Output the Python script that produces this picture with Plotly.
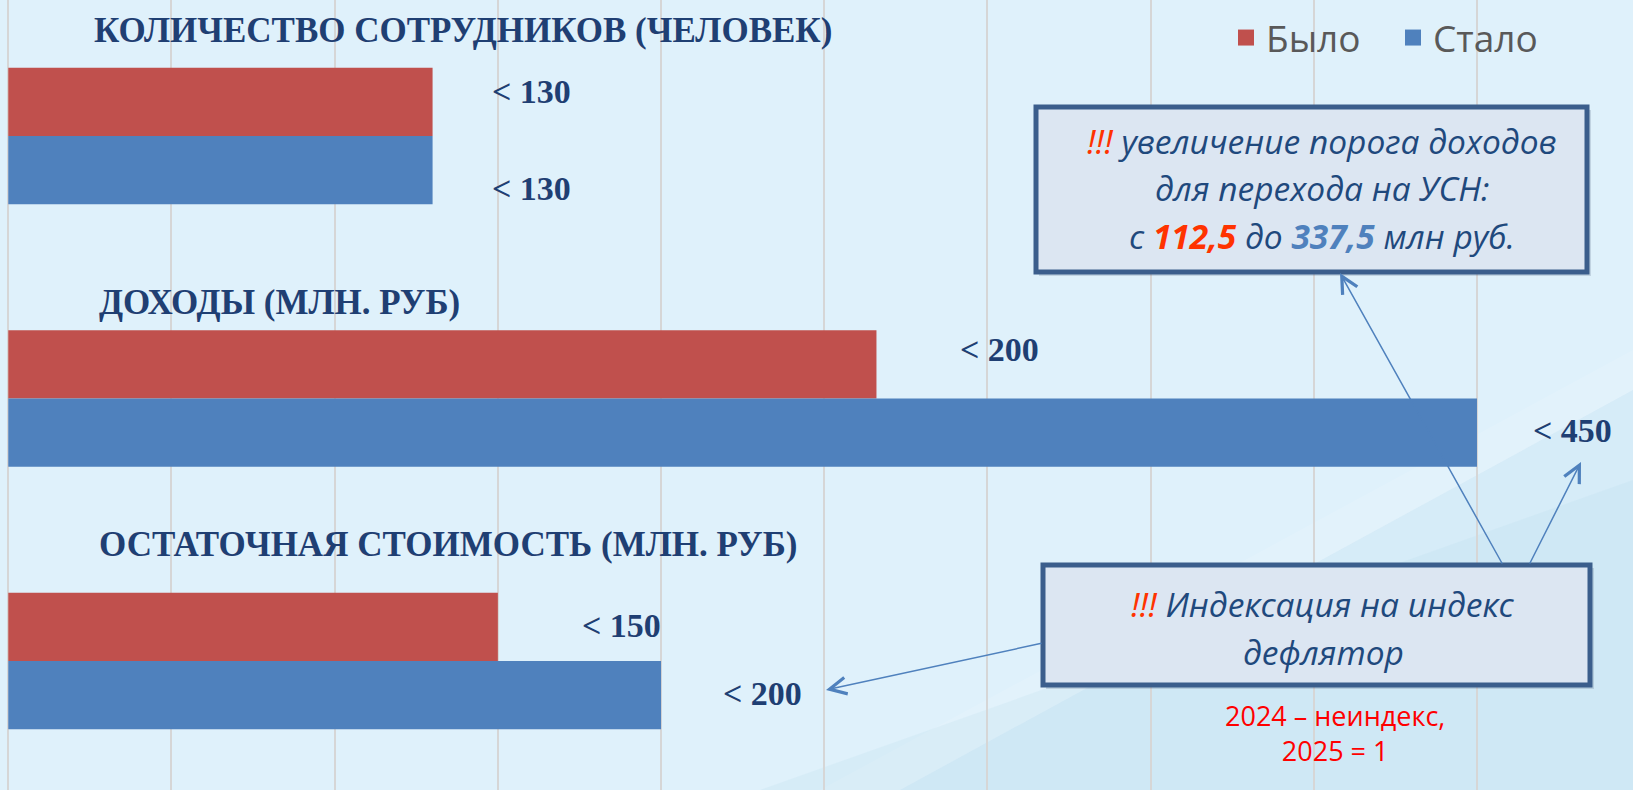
import plotly.graph_objects as go

# ---- data ----
groups = ["КОЛИЧЕСТВО СОТРУДНИКОВ (ЧЕЛОВЕК)", "ДОХОДЫ (МЛН. РУБ)", "ОСТАТОЧНАЯ СТОИМОСТЬ (МЛН. РУБ)"]
group_pos = [0, 1, 2]
bylo_values = [130, 266, 150]
stalo_values = [130, 450, 200]
bylo_labels = ["< 130", "< 200", "< 150"]
stalo_labels = ["< 130", "< 450", "< 200"]
series_names = ["Было", "Стало"]

W, H = 1633, 790
def px(x):
    return x / W
def py(y):
    return 1 - y / H

RED = "#c0504d"
BLUE = "#4f81bd"
NAVY = "#1f3f73"
BOXTXT = "#1f497d"
BG = "#dff1fb"

fig = go.Figure()
fig.add_trace(go.Bar(orientation="h", y=group_pos, x=bylo_values, width=0.26, offset=-0.26,
                     marker=dict(color=RED, line=dict(width=0)), name=series_names[0],
                     showlegend=False, hoverinfo="x"))
fig.add_trace(go.Bar(orientation="h", y=group_pos, x=stalo_values, width=0.26, offset=0,
                     marker=dict(color=BLUE, line=dict(width=0)), name=series_names[1],
                     showlegend=False, hoverinfo="x"))
# legend entries
for nm, col in zip(series_names, [RED, BLUE]):
    fig.add_trace(go.Scatter(x=[None], y=[None], mode="markers", name=nm,
                             marker=dict(symbol="square", size=16, color=col)))

annotations = []
shapes = []

# decorative background
shapes.append(dict(type="path", xref="paper", yref="paper", layer="below",
                   path=f"M {px(820)},{py(790)} L {px(1633)},{py(350)} L {px(1633)},{py(790)} Z",
                   fillcolor="rgba(255,255,255,0.12)", line=dict(width=0)))
shapes.append(dict(type="path", xref="paper", yref="paper", layer="below",
                   path=f"M {px(900)},{py(790)} L {px(1633)},{py(390)} L {px(1633)},{py(790)} Z",
                   fillcolor="rgba(175,215,235,0.22)", line=dict(width=0)))
shapes.append(dict(type="path", xref="paper", yref="paper", layer="below",
                   path=f"M {px(760)},{py(790)} L {px(1633)},{py(480)} L {px(1633)},{py(790)} Z",
                   fillcolor="rgba(175,215,235,0.18)", line=dict(width=0)))

# headings
heading_xy = [(92, 31), (97, 302), (97, 544)]
for txt, (hx, hy) in zip(groups, heading_xy):
    annotations.append(dict(xref="paper", yref="paper", x=px(hx), y=py(hy), xanchor="left", yanchor="middle",
                            text=f"<b>{txt}</b>", showarrow=False,
                            font=dict(family="Liberation Serif", size=35, color=NAVY)))

# value labels
bylo_label_xy = [(490, 92), (958, 350), (580, 625)]
stalo_label_xy = [(490, 189), (1531, 430), (721, 693)]
for lab, (lx, ly) in list(zip(bylo_labels, bylo_label_xy)) + list(zip(stalo_labels, stalo_label_xy)):
    annotations.append(dict(xref="paper", yref="paper", x=px(lx), y=py(ly), xanchor="left", yanchor="middle",
                            text=f"<b>{lab}</b>", showarrow=False,
                            font=dict(family="Liberation Serif", size=34, color=NAVY)))

# callout boxes
def box(x0, y0, x1, y1):
    shapes.append(dict(type="rect", xref="paper", yref="paper", x0=px(x0 + 3), y0=py(y1 + 4), x1=px(x1 + 4), y1=py(y0 + 3),
                       fillcolor="rgba(60,80,110,0.18)", line=dict(width=0)))
    shapes.append(dict(type="rect", xref="paper", yref="paper", x0=px(x0), y0=py(y1), x1=px(x1), y1=py(y0),
                       fillcolor="#dce6f2", line=dict(color="#3b5e8c", width=5)))

box(1036, 107, 1587, 272)
box(1043, 565, 1590, 685)

EXC = '<span style="color:#ff3300">!!!</span>'
box1_lines = [
    (f"<i>{EXC} увеличение порога доходов</i>", 141),
    ("<i>для перехода на УСН:</i>", 188),
    ('<i>с <b><span style="color:#ff3300">112,5</span></b> до <b><span style="color:#4f81bd">337,5</span></b> млн руб.</i>', 236),
]
for t, ly in box1_lines:
    annotations.append(dict(xref="paper", yref="paper", x=px(1322), y=py(ly), xanchor="center", yanchor="middle",
                            text=t, showarrow=False, font=dict(family="Open Sans", size=33.5, color=BOXTXT)))
box2_lines = [
    (f"<i>{EXC} Индексация на индекс</i>", 604),
    ("<i>дефлятор</i>", 652),
]
for t, ly in box2_lines:
    annotations.append(dict(xref="paper", yref="paper", x=px(1323), y=py(ly), xanchor="center", yanchor="middle",
                            text=t, showarrow=False, font=dict(family="Open Sans", size=33.5, color=BOXTXT)))

annotations.append(dict(xref="paper", yref="paper", x=px(1335), y=py(733), xanchor="center", yanchor="middle",
                        text="2024 – неиндекс,<br>2025 = 1", showarrow=False, align="center",
                        font=dict(family="Open Sans", size=27, color="#ff0000")))

# arrows
for (tx, ty, sx, sy) in [(1340, 273, 1503, 565), (1581, 462, 1529, 565), (826, 690, 1043, 643)]:
    annotations.append(dict(xref="paper", yref="paper", x=px(tx), y=py(ty), ax=sx - tx, ay=sy - ty,
                            text="", showarrow=True, arrowhead=5, arrowsize=2.2, arrowwidth=1.5,
                            arrowcolor=BLUE, standoff=0, startstandoff=0))

fig.update_layout(
    width=W, height=H,
    margin=dict(l=0, r=0, t=0, b=0),
    paper_bgcolor=BG, plot_bgcolor="rgba(0,0,0,0)",
    barmode="overlay",
    xaxis=dict(range=[-2.54, 497.8], showgrid=True, gridcolor="#d6d6d6", gridwidth=1.5, dtick=50, tick0=0,
               zeroline=False, showticklabels=False, showline=False, fixedrange=True),
    yaxis=dict(range=[2.491, -0.518], showgrid=False, zeroline=False, showticklabels=False, showline=False,
               fixedrange=True),
    legend=dict(orientation="h", x=px(1226), y=py(7), xanchor="left", yanchor="top",
                bgcolor="rgba(0,0,0,0)", font=dict(family="Open Sans", size=37, color="#595959"),
                itemwidth=30, traceorder="normal", entrywidth=122, entrywidthmode="pixels"),
    shapes=shapes, annotations=annotations,
    showlegend=True,
)

fig.write_html(
    "out.html",
    config={"displayModeBar": False},
    post_script="document.body.style.margin='0px';document.body.style.overflow='hidden';"
                "document.body.style.background='#dff1fb';",
)
